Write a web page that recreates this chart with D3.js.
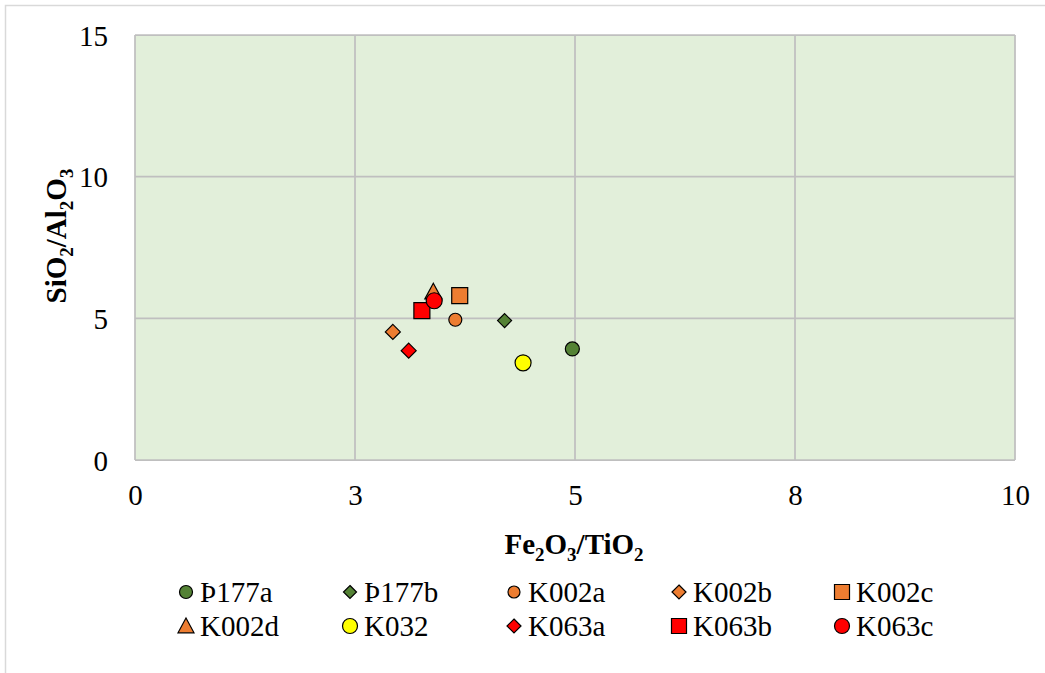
<!DOCTYPE html>
<html>
<head>
<meta charset="utf-8">
<script src="https://cdn.jsdelivr.net/npm/d3@7"></script>
<style>
  body { margin: 0; background: #ffffff; }
  svg { display: block; font-family: "Liberation Serif", "Times New Roman", serif; }
</style>
</head>
<body>
<svg id="chart" width="1045" height="673"></svg>
<script>
// ---- data ----
const seriesNames = ["Þ177a", "Þ177b", "K002a", "K002b", "K002c", "K002d", "K032", "K063a", "K063b", "K063c"];
const xValues = [4.97, 4.20, 3.64, 2.93, 3.69, 3.39, 4.41, 3.11, 3.26, 3.40];
const yValues = [3.92, 4.92, 4.95, 4.52, 5.80, 5.94, 3.43, 3.86, 5.27, 5.62];
const xTicks = [0, 2.5, 5, 7.5, 10];
const xTickLabels = ["0", "3", "5", "8", "10"];
const yTicks = [0, 5, 10, 15];
const yTickLabels = ["0", "5", "10", "15"];

// ---- styles (kept separate from data) ----
const markerShapes = ["circle", "diamond", "circle", "diamond", "square", "triangle", "circle", "diamond", "square", "circle"];
const markerColors = ["#548235", "#548235", "#ED7D31", "#ED7D31", "#ED7D31", "#ED7D31", "#FFFF00", "#FF0000", "#FF0000", "#FF0000"];
const markerSizes = [14, 14, 13, 15, 16, 17, 16, 15, 16, 16];

const svg = d3.select("#chart");
const W = 1045, H = 673;
const plot = { left: 135, top: 35, right: 1015, bottom: 460 };

// outer chart border
svg.append("rect")
  .attr("x", 5.5).attr("y", 5.5).attr("width", 1100).attr("height", 700)
  .attr("fill", "#ffffff").attr("stroke", "#d9d9d9").attr("stroke-width", 1.5);

const x = d3.scaleLinear().domain([0, 10]).range([plot.left, plot.right]);
const y = d3.scaleLinear().domain([0, 15]).range([plot.bottom, plot.top]);

// plot area background
svg.append("rect")
  .attr("x", plot.left).attr("y", plot.top)
  .attr("width", plot.right - plot.left).attr("height", plot.bottom - plot.top)
  .attr("fill", "#E2EFDA");

const gridColor = "#bfbfbf";
// gridlines
svg.append("g").selectAll("line.vx").data(xTicks).join("line")
  .attr("x1", d => x(d)).attr("x2", d => x(d))
  .attr("y1", plot.top).attr("y2", plot.bottom)
  .attr("stroke", gridColor).attr("stroke-width", 1.75);
svg.append("g").selectAll("line.hy").data(yTicks).join("line")
  .attr("y1", d => y(d)).attr("y2", d => y(d))
  .attr("x1", plot.left).attr("x2", plot.right)
  .attr("stroke", gridColor).attr("stroke-width", 1.75);

// axes (labels only, via d3 axes)
const xAxis = d3.axisBottom(x).tickValues(xTicks).tickSize(0).tickPadding(0)
  .tickFormat((d, i) => xTickLabels[i]);
const gx = svg.append("g").attr("transform", `translate(0,${plot.bottom})`).call(xAxis);
gx.select(".domain").remove();
gx.selectAll("text").attr("font-size", 29).attr("font-family", "Liberation Serif")
  .attr("fill", "#000").attr("dy", null).attr("y", 45);

const yAxis = d3.axisLeft(y).tickValues(yTicks).tickSize(0).tickPadding(0)
  .tickFormat((d, i) => yTickLabels[i]);
const gy = svg.append("g").attr("transform", `translate(${plot.left},0)`).call(yAxis);
gy.select(".domain").remove();
gy.selectAll("text").attr("font-size", 29).attr("font-family", "Liberation Serif")
  .attr("fill", "#000").attr("dy", null).attr("x", -27).attr("y", 10);

// marker path generator
function markerPath(shape, s) {
  const h = s / 2;
  if (shape === "circle") {
    return `M${-h},0A${h},${h} 0 1,0 ${h},0A${h},${h} 0 1,0 ${-h},0Z`;
  } else if (shape === "square") {
    return `M${-h},${-h}L${h},${-h}L${h},${h}L${-h},${h}Z`;
  } else if (shape === "diamond") {
    return `M0,${-h}L${h},0L0,${h}L${-h},0Z`;
  } else {
    return `M0,${-h}L${h},${h * 0.85}L${-h},${h * 0.85}Z`;
  }
}

// points
const pts = seriesNames.map((n, i) => ({ name: n, x: xValues[i], y: yValues[i], i }));
svg.append("g").selectAll("path").data(pts).join("path")
  .attr("transform", d => `translate(${x(d.x)},${y(d.y)})`)
  .attr("d", d => markerPath(markerShapes[d.i], markerSizes[d.i]))
  .attr("fill", d => markerColors[d.i])
  .attr("stroke", "#000").attr("stroke-width", 1.2);

// axis titles
const xt = svg.append("text").attr("x", 574).attr("y", 554).attr("text-anchor", "middle")
  .attr("font-size", 29).attr("font-weight", "bold").attr("fill", "#000");
function addFormula(t, parts) {
  parts.forEach(p => {
    if (p.sub) {
      t.append("tspan").attr("font-size", 19).attr("dy", 7).text(p.t);
    } else {
      t.append("tspan").attr("dy", p.after ? -7 : 0).text(p.t);
    }
  });
}
addFormula(xt, [
  { t: "Fe" }, { t: "2", sub: true }, { t: "O", after: true }, { t: "3", sub: true },
  { t: "/TiO", after: true }, { t: "2", sub: true }
]);

const yt = svg.append("text").attr("transform", "translate(66,236) rotate(-90)")
  .attr("text-anchor", "middle").attr("font-size", 29).attr("font-weight", "bold").attr("fill", "#000");
addFormula(yt, [
  { t: "SiO" }, { t: "2", sub: true }, { t: "/Al", after: true }, { t: "2", sub: true },
  { t: "O", after: true }, { t: "3", sub: true }
]);

// legend
const legendX = [186, 350, 514, 679, 842];
const legendY = [592, 626];
const lg = svg.append("g").selectAll("g").data(pts).join("g")
  .attr("transform", d => `translate(${legendX[d.i % 5]},${legendY[Math.floor(d.i / 5)]})`);
lg.append("path")
  .attr("d", d => markerPath(markerShapes[d.i], markerShapes[d.i] === "diamond" ? markerSizes[d.i] - 1 : markerSizes[d.i] - 1))
  .attr("fill", d => markerColors[d.i])
  .attr("stroke", "#000").attr("stroke-width", 1.2);
lg.append("text").attr("x", 14).attr("y", 10)
  .attr("font-size", 29).attr("fill", "#000").text(d => d.name);
</script>
</body>
</html>
